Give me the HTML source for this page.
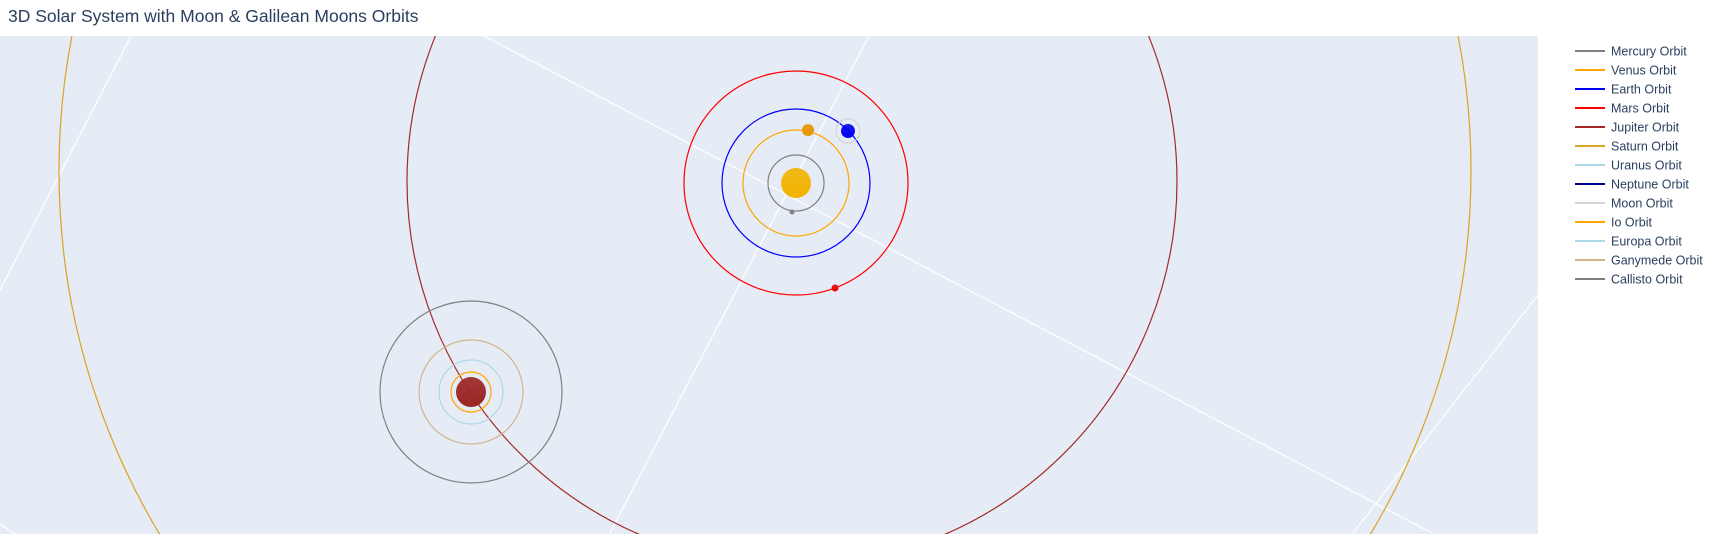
<!DOCTYPE html>
<html><head><meta charset="utf-8"><style>
html,body{margin:0;background:#fff;font-family:"Liberation Sans",sans-serif;width:1714px;height:534px;overflow:hidden;}
svg{display:block}
</style></head><body>
<svg id="chart" width="1714" height="534">
<text x="8" y="22" font-size="17.5" fill="#2a3f5f">3D Solar System with Moon &amp; Galilean Moons Orbits</text>
<rect x="0" y="36" width="1538" height="498" fill="#e5ecf6"/>
<g id="plot"></g>
<g id="legend"></g>
</svg>
<script>
const orbitNames=["Mercury Orbit","Venus Orbit","Earth Orbit","Mars Orbit","Jupiter Orbit","Saturn Orbit","Uranus Orbit","Neptune Orbit","Moon Orbit","Io Orbit","Europa Orbit","Ganymede Orbit","Callisto Orbit"];
const orbitColors=["#808080","#ffa500","#0000ff","#ff0000","#a52a2a","#daa520","#add8e6","#00008b","#d3d3d3","#ffa500","#add8e6","#d2b48c","#808080"];
const orbitCx=[796,796,796,796,792,765,null,null,848,471,471,471,471];
const orbitCy=[183,183,183,183,181,171,null,null,131,392,392,392,392];
const orbitR=[28,53,74,112,385,706,null,null,12,20,32,52,91];
const bodyNames=["sun","mercury","venus","earth","mars","jupiter"];
const bodyX=[796,792,808,848,835,471];
const bodyY=[183,212,130,131,288,392];
const bodyR=[15,2.5,6,7,3.5,15];
const bodyColors=["#f2b300","#808080","#e69500","#0000ee","#ee0000","#9b2424"];
const gridX1=[131,484,869,1538,0];
const gridY1=[36,36,36,295,524];
const gridX2=[0,1432,610,1353,15];
const gridY2=[290,533,533,533,534];
const NS="http://www.w3.org/2000/svg";
const svg=document.getElementById('chart');
const plot=document.getElementById('plot');
const defs=document.createElementNS(NS,'defs');
const cp=document.createElementNS(NS,'clipPath');cp.setAttribute('id','clip');
const cr=document.createElementNS(NS,'rect');cr.setAttribute('x',0);cr.setAttribute('y',36);cr.setAttribute('width',1538);cr.setAttribute('height',498);
cp.appendChild(cr);defs.appendChild(cp);
plot.setAttribute('clip-path','url(#clip)');
for(let i=0;i<gridX1.length;i++){
 const l=document.createElementNS(NS,'line');
 l.setAttribute('x1',gridX1[i]);l.setAttribute('y1',gridY1[i]);l.setAttribute('x2',gridX2[i]);l.setAttribute('y2',gridY2[i]);
 l.setAttribute('stroke','#ffffff');l.setAttribute('stroke-width',1.2);
 
 
 plot.appendChild(l);
}
for(let i=0;i<orbitNames.length;i++){
 if(orbitR[i]==null)continue;
 const c=document.createElementNS(NS,'circle');
 c.setAttribute('cx',orbitCx[i]);c.setAttribute('cy',orbitCy[i]);c.setAttribute('r',orbitR[i]);
 c.setAttribute('fill','none');c.setAttribute('stroke',orbitColors[i]);c.setAttribute('stroke-width',1.2);
 
 
 plot.appendChild(c);
}
for(let i=0;i<bodyNames.length;i++){
 const g=document.createElementNS(NS,'linearGradient');g.setAttribute('id','g'+i);g.setAttribute('x1','0');g.setAttribute('y1','0');g.setAttribute('x2','0');g.setAttribute('y2','1');
 const s1=document.createElementNS(NS,'stop');s1.setAttribute('offset','0');s1.setAttribute('stop-color',bodyColors[i]);s1.setAttribute('stop-opacity','0.9');
 const s2=document.createElementNS(NS,'stop');s2.setAttribute('offset','1');s2.setAttribute('stop-color',bodyColors[i]);
 g.appendChild(s1);g.appendChild(s2);defs.appendChild(g);
}
svg.insertBefore(defs,svg.firstChild);
for(let i=0;i<bodyNames.length;i++){
 const c=document.createElementNS(NS,'circle');
 c.setAttribute('cx',bodyX[i]);c.setAttribute('cy',bodyY[i]);c.setAttribute('r',bodyR[i]);
 c.setAttribute('fill','url(#g'+i+')');
 
 
 plot.appendChild(c);
}
const lg=document.getElementById('legend');
for(let i=0;i<orbitNames.length;i++){
 const y=51+i*19;
 const g=document.createElementNS(NS,'g');
 
 
 const l=document.createElementNS(NS,'line');
 l.setAttribute('x1',1575);l.setAttribute('x2',1605);l.setAttribute('y1',y);l.setAttribute('y2',y);
 l.setAttribute('stroke',orbitColors[i]);l.setAttribute('stroke-width',2);
 const t=document.createElementNS(NS,'text');
 t.setAttribute('x',1611);t.setAttribute('y',y+4.5);t.setAttribute('font-size','12.5');t.setAttribute('fill','#2a3f5f');
 t.textContent=orbitNames[i];
 g.appendChild(l);g.appendChild(t);lg.appendChild(g);
}
</script>
</body></html>
